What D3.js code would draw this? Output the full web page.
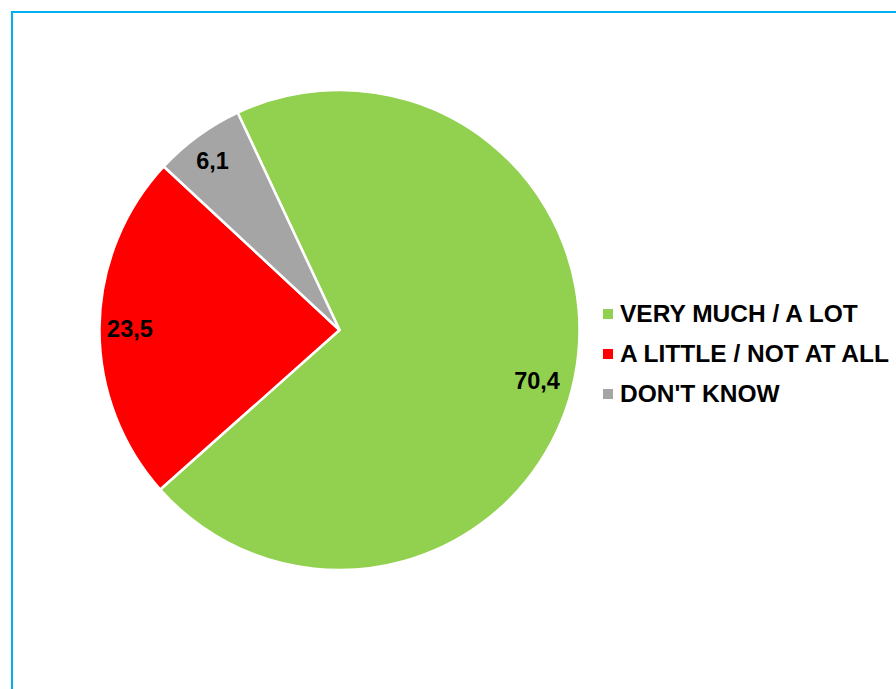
<!DOCTYPE html>
<html>
<head>
<meta charset="utf-8">
<script src="https://cdn.jsdelivr.net/npm/d3@7"></script>
<style>
  html, body { margin: 0; padding: 0; background: #fff; }
  svg { display: block; }
</style>
</head>
<body>
<svg id="chart" width="896" height="689"></svg>
<script>
// Survey answers, in percent
const categories = ["VERY MUCH / A LOT", "A LITTLE / NOT AT ALL", "DON'T KNOW"];
const values = [70.4, 23.5, 6.1];
const valueLabels = ["70,4", "23,5", "6,1"];
const colors = ["#92d050", "#ff0000", "#a5a5a5"];

const svg = d3.select("#chart");
const W = 896, H = 689;

// Chart area frame
svg.append("rect")
  .attr("x", 12).attr("y", 12)
  .attr("width", W + 20).attr("height", H + 20)
  .attr("fill", "#fff")
  .attr("stroke", "#00b0f0")
  .attr("stroke-width", 2);

const cx = 339.5, cy = 330, r = 240;
const start = -25.1 * Math.PI / 180;

const pie = d3.pie().sort(null).value(d => d)
  .startAngle(start).endAngle(start + 2 * Math.PI);
const arcs = pie(values);
const arc = d3.arc().innerRadius(0).outerRadius(r);

const g = svg.append("g").attr("transform", `translate(${cx},${cy})`);

g.selectAll("path.slice").data(arcs).join("path")
  .attr("class", "slice")
  .attr("d", arc)
  .attr("fill", (d, i) => colors[i])
  .attr("stroke", "#fff")
  .attr("stroke-width", 2.5)
  .attr("stroke-linejoin", "round");

// Value labels placed near each slice's bisector (radius fraction, angle nudge in degrees)
const labelRadius = [0.85, 0.873, 0.884];
const labelNudge = [2.8, -0.3, -0.7];
g.selectAll("text.val").data(arcs).join("text")
  .attr("class", "val")
  .attr("transform", (d, i) => {
    const a = (d.startAngle + d.endAngle) / 2 + labelNudge[i] * Math.PI / 180;
    const rr = r * labelRadius[i];
    return `translate(${rr * Math.sin(a)},${-rr * Math.cos(a)})`;
  })
  .attr("text-anchor", "middle")
  .attr("dy", "0.36em")
  .attr("font-family", "Liberation Sans, Arial, sans-serif")
  .attr("font-weight", "bold")
  .attr("font-size", 23.5)
  .attr("fill", "#000")
  .text((d, i) => valueLabels[i]);

// Legend
const legend = svg.append("g").attr("transform", "translate(603,313)");
const rowH = 40;
const items = legend.selectAll("g").data(categories).join("g")
  .attr("transform", (d, i) => `translate(0,${i * rowH})`);
items.append("rect")
  .attr("x", 0).attr("y", -4)
  .attr("width", 10).attr("height", 10)
  .attr("fill", (d, i) => colors[i]);
items.append("text")
  .attr("x", 17).attr("y", 9)
  .attr("font-family", "Liberation Sans, Arial, sans-serif")
  .attr("font-weight", "bold")
  .attr("font-size", 24.5)
  .attr("fill", "#000")
  .text(d => d);
</script>
</body>
</html>
